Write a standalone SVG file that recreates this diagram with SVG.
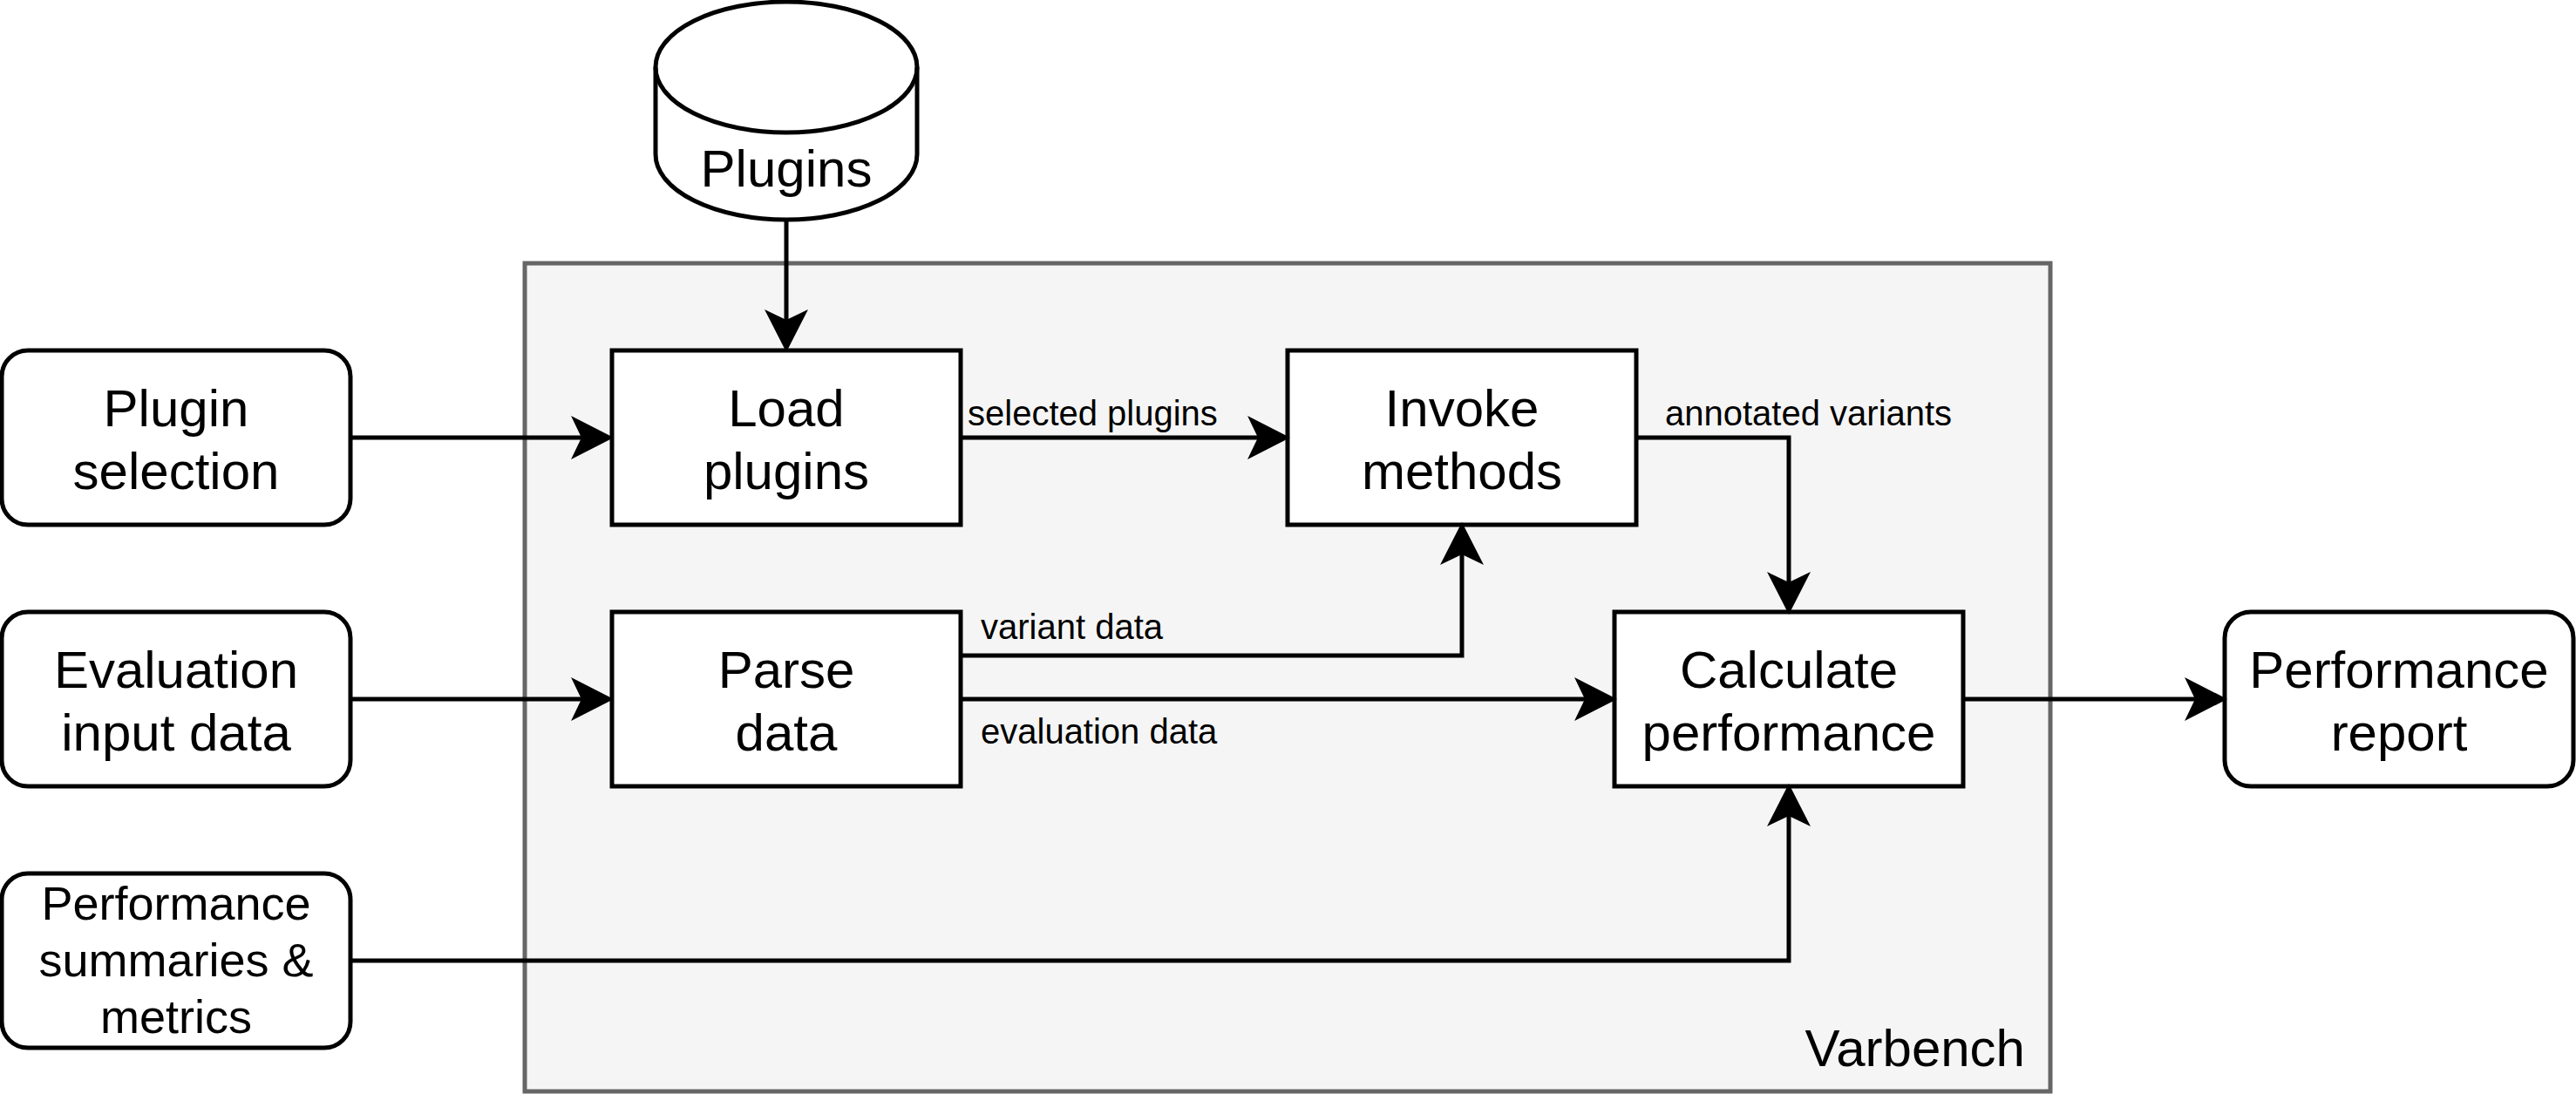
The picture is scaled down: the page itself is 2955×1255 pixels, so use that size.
<svg xmlns="http://www.w3.org/2000/svg" width="2955" height="1255" viewBox="0 0 2955 1255">
<style>
.box{fill:#ffffff;stroke:#000000;stroke-width:5}
.cont{fill:#f5f5f5;stroke:#666666;stroke-width:5}
.t{font-family:"Liberation Sans",Arial,Helvetica,sans-serif;font-size:60px;fill:#000000;text-anchor:middle}
.ts{font-family:"Liberation Sans",Arial,Helvetica,sans-serif;font-size:54px;fill:#000000;text-anchor:middle}
.el{font-family:"Liberation Sans",Arial,Helvetica,sans-serif;font-size:40px;fill:#000000}
.edge{fill:none;stroke:#000000;stroke-width:5;marker-end:url(#arr)}
</style>
<defs>
<marker id="arr" markerUnits="userSpaceOnUse" markerWidth="50" markerHeight="50" viewBox="0 0 46 46" refX="11" refY="23" orient="auto">
<path d="M0,0 L45,23 L0,46 L11,23 Z" fill="#000000"/>
</marker>
</defs>
<rect width="2955" height="1255" fill="#ffffff"/>
<g id="varbench">
<rect class="cont" x="602" y="302" width="1750" height="950"/>
<text class="t" x="2323" y="1223" style="text-anchor:end">Varbench</text>
</g>
<g id="plugins-db">
<path d="M752,77 A150,75 0 0 1 1052,77 L1052,177 A150,75 0 0 1 752,177 Z" fill="#ffffff" stroke="#000000" stroke-width="5"/>
<path d="M752,77 A150,75 0 0 0 1052,77" fill="none" stroke="#000000" stroke-width="5"/>
<text class="t" x="902" y="214">Plugins</text>
</g>
<g id="plugin-selection">
<rect class="box" x="2" y="402" width="400" height="200" rx="30" ry="30"/>
<text class="t" x="202" y="489">Plugin</text>
<text class="t" x="202" y="561">selection</text>
</g>
<g id="evaluation-input">
<rect class="box" x="2" y="702" width="400" height="200" rx="30" ry="30"/>
<text class="t" x="202" y="789">Evaluation</text>
<text class="t" x="202" y="861">input data</text>
</g>
<g id="performance-summaries">
<rect class="box" x="2" y="1002" width="400" height="200" rx="30" ry="30"/>
<text class="ts" x="202" y="1055">Performance</text>
<text class="ts" x="202" y="1120">summaries &amp;</text>
<text class="ts" x="202" y="1185">metrics</text>
</g>
<g id="load-plugins">
<rect class="box" x="702" y="402" width="400" height="200"/>
<text class="t" x="902" y="489">Load</text>
<text class="t" x="902" y="561">plugins</text>
</g>
<g id="invoke-methods">
<rect class="box" x="1477" y="402" width="400" height="200"/>
<text class="t" x="1677" y="489">Invoke</text>
<text class="t" x="1677" y="561">methods</text>
</g>
<g id="parse-data">
<rect class="box" x="702" y="702" width="400" height="200"/>
<text class="t" x="902" y="789">Parse</text>
<text class="t" x="902" y="861">data</text>
</g>
<g id="calculate-performance">
<rect class="box" x="1852" y="702" width="400" height="200"/>
<text class="t" x="2052" y="789">Calculate</text>
<text class="t" x="2052" y="861">performance</text>
</g>
<g id="performance-report">
<rect class="box" x="2552" y="702" width="400" height="200" rx="30" ry="30"/>
<text class="t" x="2752" y="789">Performance</text>
<text class="t" x="2752" y="861">report</text>
</g>
<g id="connectors">
<path class="edge" d="M902,252 L902,367"/>
<path class="edge" d="M402,502 L667,502"/>
<path class="edge" d="M1102,502 L1443,502"/>
<path class="edge" d="M1877,502 L2052,502 L2052,668"/>
<path class="edge" d="M1102,752 L1677,752 L1677,636"/>
<path class="edge" d="M1102,802 L1818,802"/>
<path class="edge" d="M402,802 L667,802"/>
<path class="edge" d="M402,1102 L2052,1102 L2052,936"/>
<path class="edge" d="M2252,802 L2518,802"/>
<text class="el" x="1110" y="488">selected plugins</text>
<text class="el" x="1910" y="488">annotated variants</text>
<text class="el" x="1125" y="733">variant data</text>
<text class="el" x="1125" y="853">evaluation data</text>
</g>
</svg>
